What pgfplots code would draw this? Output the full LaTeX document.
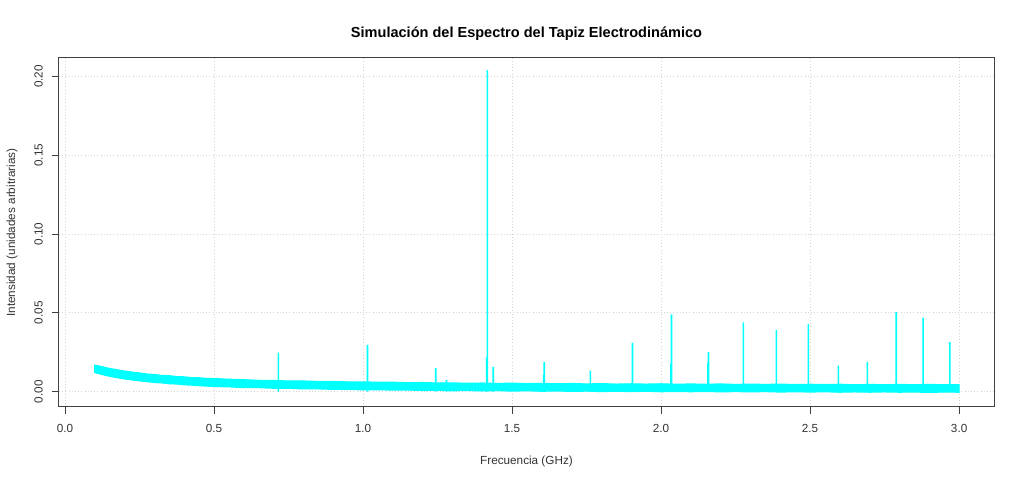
\documentclass[border=0pt]{standalone}
\usepackage{pgfplots}
\pgfplotsset{compat=1.18}
\usepackage{fontspec}
\setmainfont{Liberation Sans}
\definecolor{spec}{HTML}{00FFFF}
\definecolor{gridc}{HTML}{D3D3D3}
\begin{document}
\begin{tikzpicture}
\useasboundingbox (-44.25pt,-55.5pt) rectangle (723.75pt,305.25pt);
\begin{axis}[
  at={(0,0)}, anchor=south west,
  scale only axis, width=701.25pt, height=261.75pt,
  xmin=-0.02, xmax=3.117, ymin=-0.0097, ymax=0.2117,
  xtick={0,0.5,...,3.0}, ytick={0,0.05,0.10,0.15,0.20},
  xticklabels={0.0,0.5,1.0,1.5,2.0,2.5,3.0},
  yticklabels={0.00,0.05,0.10,0.15,0.20},
  tick align=outside, major tick length=5.25pt,
  tick style={black!75, line width=0.6pt},
  axis line style={black!75, line width=0.75pt},
  xtick pos=bottom, ytick pos=left,
  grid=major, grid style={gridc, dotted, line width=0.6pt},
  tick label style={font=\fontsize{8.8}{10}\selectfont, text=black!80},
  xticklabel style={anchor=north, inner sep=0pt},
  yticklabel style={rotate=90, anchor=south, inner sep=0pt},
  xticklabel shift=7.5pt,
  yticklabel shift=6.75pt,
  /pgf/number format/assume math mode=true,
  title={Simulación del Espectro del Tapiz Electrodinámico},
  title style={at={(axis description cs:0.5,1.0774)}, anchor=center, yshift=-8.25pt, font=\fontsize{10.9}{12}\selectfont\bfseries},
  xlabel={Frecuencia (GHz)},
  xlabel style={at={(axis description cs:0.5,-0.1547)}, anchor=center, font=\fontsize{8.8}{10}\selectfont, text=black!80},
  ylabel={Intensidad (unidades arbitrarias)},
  ylabel style={at={(axis description cs:-0.0503,0.5)}, anchor=center, font=\fontsize{8.8}{10}\selectfont, text=black!80},
  clip=true,
]
% noisy baseline band (upper envelope then lower envelope)
\addplot[draw=spec, fill=spec, line width=0.9pt] coordinates {
(0.100,0.0168)(0.125,0.0158)(0.150,0.0147)(0.175,0.0139)(0.200,0.0131)(0.225,0.0124)(0.250,0.0119)(0.275,0.0112)(0.300,0.0109)(0.325,0.0103)(0.350,0.0101)(0.375,0.0096)(0.400,0.0094)(0.425,0.0089)(0.450,0.0088)(0.475,0.0084)(0.500,0.0083)(0.550,0.0079)(0.600,0.0076)(0.650,0.0072)(0.700,0.0071)(0.750,0.0068)(0.800,0.0068)(0.850,0.0065)(0.900,0.0065)(0.950,0.0062)(1.000,0.0062)(1.050,0.0060)(1.100,0.0060)(1.150,0.0057)(1.200,0.0058)(1.250,0.0055)(1.300,0.0056)(1.350,0.0053)(1.400,0.0055)(1.450,0.0052)(1.500,0.0054)(1.550,0.0051)(1.600,0.0053)(1.650,0.0050)(1.700,0.0052)(1.750,0.0049)(1.800,0.0051)(1.850,0.0048)(1.900,0.0050)(1.950,0.0048)(2.000,0.0050)(2.050,0.0047)(2.100,0.0049)(2.150,0.0047)(2.200,0.0049)(2.250,0.0046)(2.300,0.0048)(2.350,0.0046)(2.400,0.0048)(2.450,0.0045)(2.500,0.0047)(2.550,0.0045)(2.600,0.0047)(2.650,0.0044)(2.700,0.0046)(2.750,0.0044)(2.800,0.0046)(2.850,0.0044)(2.900,0.0046)(2.950,0.0044)(3.000,0.0045)
(3.000,-0.0003)(2.950,-0.0002)(2.900,-0.0004)(2.850,-0.0002)(2.800,-0.0003)(2.750,-0.0001)(2.700,-0.0003)(2.650,-0.0001)(2.600,-0.0003)(2.550,0.0000)(2.500,-0.0002)(2.450,0.0000)(2.400,-0.0002)(2.350,0.0001)(2.300,-0.0001)(2.250,0.0001)(2.200,-0.0001)(2.150,0.0002)(2.100,0.0000)(2.050,0.0002)(2.000,0.0000)(1.950,0.0003)(1.900,0.0001)(1.850,0.0003)(1.800,0.0001)(1.750,0.0004)(1.700,0.0002)(1.650,0.0005)(1.600,0.0003)(1.550,0.0006)(1.500,0.0004)(1.450,0.0007)(1.400,0.0005)(1.350,0.0008)(1.300,0.0006)(1.250,0.0009)(1.200,0.0008)(1.150,0.0011)(1.100,0.0010)(1.050,0.0013)(1.000,0.0012)(0.950,0.0015)(0.900,0.0015)(0.850,0.0018)(0.800,0.0018)(0.750,0.0022)(0.700,0.0022)(0.650,0.0026)(0.600,0.0026)(0.550,0.0031)(0.500,0.0033)(0.475,0.0036)(0.450,0.0038)(0.425,0.0042)(0.400,0.0044)(0.375,0.0049)(0.350,0.0051)(0.325,0.0056)(0.300,0.0059)(0.275,0.0064)(0.250,0.0069)(0.225,0.0075)(0.200,0.0081)(0.175,0.0089)(0.150,0.0098)(0.125,0.0109)(0.100,0.0122)
} -- cycle;
% spectral lines
\addplot[ybar, bar width=1.2pt, bar shift=0pt, fill=spec, draw=none, mark=none] coordinates {
(0.716,0.0248)(1.015,0.0297)(1.244,0.0150)(1.280,0.0075)(1.415,0.0216)(1.417,0.2040)(1.437,0.0157)(1.606,0.0106)(1.608,0.0187)(1.763,0.0134)(1.904,0.0309)(2.033,0.0176)(2.035,0.0491)(2.157,0.0184)(2.159,0.0252)(2.276,0.0440)(2.387,0.0390)(2.494,0.0428)(2.595,0.0165)(2.692,0.0189)(2.789,0.0506)(2.879,0.0470)(2.969,0.0314)
};
\end{axis}
\end{tikzpicture}
\end{document}
